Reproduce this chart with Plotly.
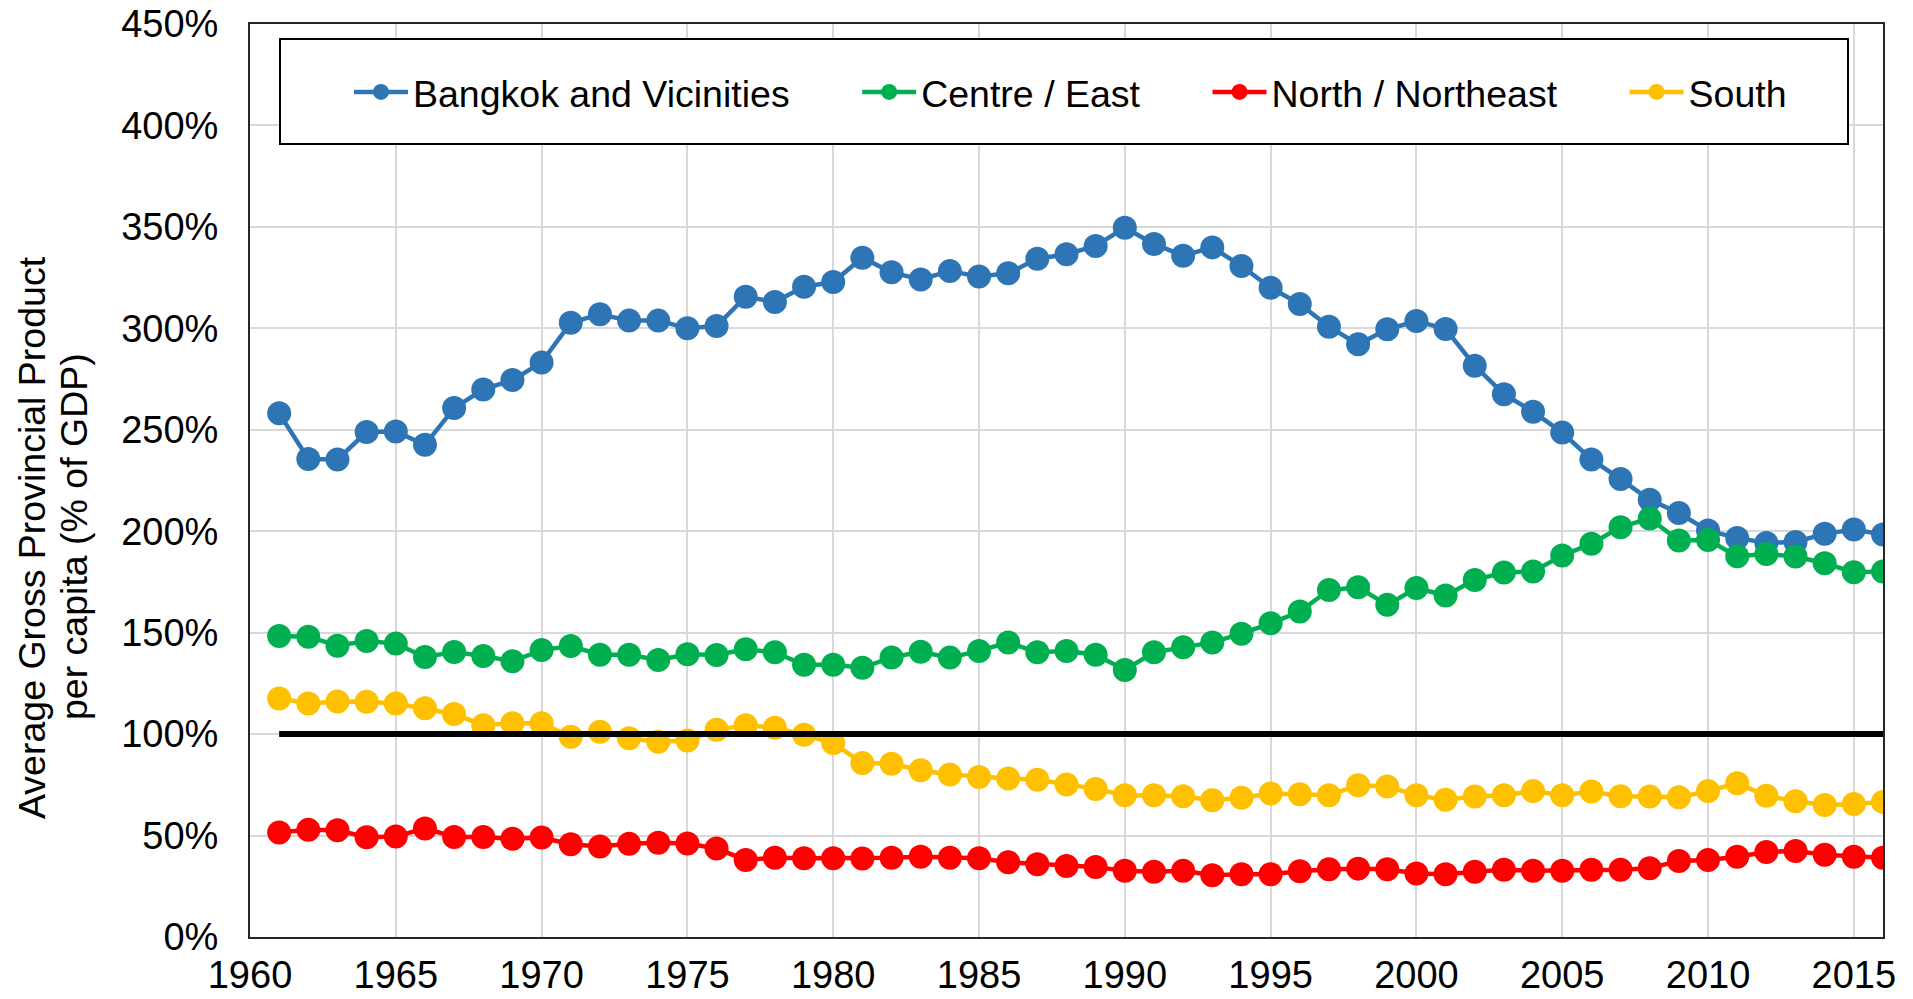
import plotly.graph_objects as go

years = list(range(1961, 2017))

bangkok = [258.1, 235.6, 235.4, 248.9, 249.1, 242.6, 260.7, 269.9, 274.5, 283.2,
           302.8, 306.9, 303.8, 303.8, 300.0, 301.1, 315.6, 313.0, 320.5, 322.8,
           334.8, 327.6, 324.1, 328.2, 325.5, 327.1, 334.3, 336.5, 340.6, 349.6,
           341.6, 335.8, 339.9, 330.7, 320.0, 312.0, 300.8, 292.1, 299.5, 303.6,
           299.7, 281.6, 267.5, 258.9, 248.6, 235.4, 225.7, 215.5, 209.0, 200.3,
           196.7, 194.2, 194.7, 198.7, 200.8, 198.4]

centre = [148.4, 148.0, 143.6, 145.9, 144.6, 138.0, 140.5, 138.5, 135.9, 141.4,
          143.4, 139.1, 139.1, 136.5, 139.4, 139.0, 141.8, 140.3, 134.2, 134.2,
          132.7, 137.8, 140.6, 137.7, 141.0, 145.2, 140.3, 141.0, 139.1, 131.6,
          140.3, 142.8, 145.2, 149.5, 154.6, 160.4, 171.0, 172.4, 163.7, 172.0,
          168.3, 176.0, 179.6, 180.1, 188.0, 193.8, 202.0, 206.3, 195.4, 195.7,
          187.7, 188.8, 187.5, 184.2, 179.8, 180.1]

north = [51.5, 52.8, 52.6, 49.2, 49.5, 53.5, 49.3, 49.3, 48.4, 49.0,
         45.7, 44.6, 45.9, 46.5, 46.1, 43.6, 38.0, 39.1, 38.8, 38.8,
         38.7, 39.1, 39.6, 39.1, 38.8, 36.8, 35.9, 35.0, 34.5, 32.6,
         32.2, 32.6, 30.4, 30.9, 30.9, 32.4, 33.4, 33.7, 33.4, 31.3,
         30.9, 32.2, 33.1, 32.6, 32.6, 33.1, 33.1, 33.9, 37.5, 38.0,
         39.6, 41.9, 42.4, 40.5, 39.6, 39.1]

south = [117.6, 115.1, 116.1, 116.0, 115.1, 112.7, 109.9, 104.4, 105.4, 105.4,
         98.7, 101.2, 97.9, 96.2, 96.9, 102.1, 104.4, 103.1, 99.7, 95.6,
         85.7, 85.4, 82.2, 80.1, 78.9, 78.1, 77.5, 75.2, 73.0, 69.9,
         69.9, 69.4, 67.4, 68.6, 70.7, 70.4, 69.9, 74.8, 74.2, 69.9,
         67.6, 69.2, 69.9, 71.9, 69.9, 71.7, 69.4, 69.2, 68.9, 71.9,
         75.8, 69.6, 66.9, 65.1, 65.5, 66.6]

baseline_years = [1961, 2016]
baseline = [100, 100]

series_names = ["Bangkok and Vicinities", "Centre / East", "North / Northeast", "South"]
series_colors = ["#2E75B6", "#00B050", "#FF0000", "#FFC000"]
series_values = [bangkok, centre, north, south]

x_ticks = [1960, 1965, 1970, 1975, 1980, 1985, 1990, 1995, 2000, 2005, 2010, 2015]
y_ticks = [0, 50, 100, 150, 200, 250, 300, 350, 400, 450]

FONT = "Liberation Sans, Arial, sans-serif"
FS = 37.5
TFS = 38
PAD = "\u00a0" * 6

fig = go.Figure()
for i, (name, color, vals) in enumerate(zip(series_names, series_colors, series_values)):
    label = name + (PAD if i < len(series_names) - 1 else "")
    fig.add_trace(go.Scatter(
        x=years, y=vals, name=label, mode="lines+markers",
        line=dict(color=color, width=4.5),
        marker=dict(color=color, size=24),
    ))

fig.add_trace(go.Scatter(
    x=baseline_years, y=baseline, mode="lines", showlegend=False,
    line=dict(color="black", width=6),
))

W, H = 1913, 999
L, R, T, B = 250, 30, 24, 62
pw, ph = W - L - R, H - T - B

def px_x(p):
    return (p - L) / pw

def px_y(p):
    return (H - B - p) / ph

fig.add_shape(type="rect", xref="paper", yref="paper",
              x0=px_x(280), x1=px_x(1848), y0=px_y(144), y1=px_y(39),
              line=dict(color="black", width=2), fillcolor="white", layer="above")

fig.add_annotation(text="Average Gross Provincial Product", xref="paper", yref="paper",
                   x=px_x(32), y=px_y(537), textangle=-90, showarrow=False,
                   xanchor="center", yanchor="middle", font=dict(size=FS, color="#000000", family=FONT))
fig.add_annotation(text="per capita (% of GDP)", xref="paper", yref="paper",
                   x=px_x(74), y=px_y(537), textangle=-90, showarrow=False,
                   xanchor="center", yanchor="middle", font=dict(size=FS, color="#000000", family=FONT))

fig.update_layout(
    width=W, height=H,
    margin=dict(l=L, r=R, t=T, b=B, pad=0, autoexpand=False),
    paper_bgcolor="white", plot_bgcolor="white",
    font=dict(family=FONT, size=FS, color="#000000"),
    showlegend=True,
    legend=dict(orientation="h", x=px_x(349), y=px_y(92), xanchor="left", yanchor="middle",
                bgcolor="rgba(0,0,0,0)", borderwidth=0, itemwidth=54,
                font=dict(family=FONT, size=FS, color="#000000")),
    xaxis=dict(range=[1960, 2016], tickvals=x_ticks, ticktext=[str(v) for v in x_ticks],
               showgrid=True, gridcolor="#D9D9D9", gridwidth=1.5, automargin=False,
               showline=True, linecolor="#262626", linewidth=2, mirror=True,
               tickfont=dict(size=TFS), ticks="", ticklabelstandoff=3, zeroline=False),
    yaxis=dict(range=[0, 450], tickvals=y_ticks, ticktext=[f"{v}%" for v in y_ticks],
               showgrid=True, gridcolor="#D9D9D9", gridwidth=1.5, automargin=False,
               showline=True, linecolor="#262626", linewidth=2, mirror=True,
               tickfont=dict(size=TFS), ticks="", ticklabelstandoff=22, zeroline=False),
)

fig.write_html("out.html", config={"displayModeBar": False},
               post_script="document.body.style.margin='0px';document.body.style.overflow='hidden';")
